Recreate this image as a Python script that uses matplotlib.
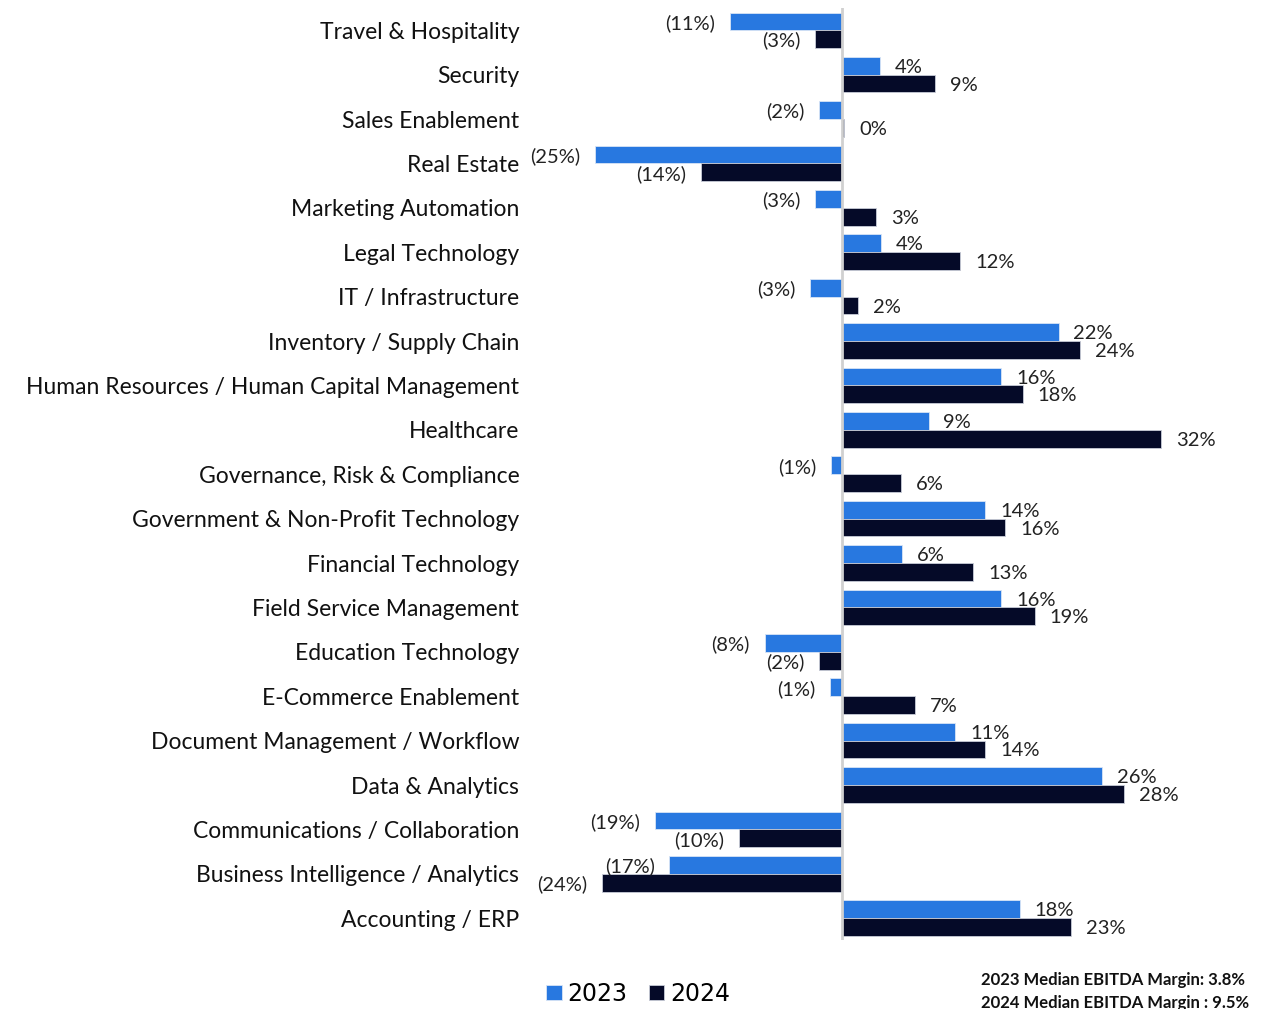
import numpy as np
import matplotlib.pyplot as plt

categories = [
    "Travel & Hospitality", "Security", "Sales Enablement", "Real Estate",
    "Marketing Automation", "Legal Technology", "IT / Infrastructure",
    "Inventory / Supply Chain", "Human Resources / Human Capital Management",
    "Healthcare", "Governance, Risk & Compliance",
    "Government & Non-Profit Technology", "Financial Technology",
    "Field Service Management", "Education Technology",
    "E-Commerce Enablement", "Document Management / Workflow",
    "Data & Analytics", "Communications / Collaboration",
    "Business Intelligence / Analytics", "Accounting / ERP",
]
margin_2023 = [-11.3, 3.8, -2.3, -24.9, -2.7, 3.9, -3.2, 21.8, 16.0, 8.7, -1.1,
               14.4, 6.0, 16.0, -7.8, -1.2, 11.4, 26.2, -18.9, -17.4, 17.9]
margin_2024 = [-2.7, 9.4, 0.2, -14.2, 3.4, 11.9, 1.6, 24.0, 18.2, 32.1, 5.9,
               16.4, 13.2, 19.4, -2.3, 7.3, 14.4, 28.4, -10.4, -24.2, 23.1]
notes = ["2023 Median EBITDA Margin: 3.8%", "2024 Median EBITDA Margin : 9.5%"]

c2023 = "#2878E0"
c2024 = "#050A28"
font = "Lato"


def fmt(v):
    r = int(round(abs(v)))
    return f"({r}%)" if v < 0 else f"{r}%"


fig = plt.figure(figsize=(12.69, 10.09), dpi=100)
ax = fig.add_axes([0.418, 0.068, 0.575, 0.924])

y = np.arange(len(categories))
h = 0.4
b1 = ax.barh(y - h / 2, margin_2023, height=h, color=c2023, edgecolor="#d8e4f5",
             linewidth=0.6, label="2023")
b2 = ax.barh(y + h / 2, margin_2024, height=h, color=c2024, edgecolor="#c8ccd8",
             linewidth=0.6, label="2024")

for vals, yy in [(margin_2023, y - h / 2), (margin_2024, y + h / 2)]:
    for v, yi in zip(vals, yy):
        if v < 0:
            ax.text(v - 1.5, yi, fmt(v), ha="right", va="center_baseline",
                    fontsize=14.5, family=font, color="#222222")
        else:
            ax.text(v + 1.5, yi, fmt(v), ha="left", va="center_baseline",
                    fontsize=14.5, family=font, color="#222222")

ax.axvline(0, color="#d0d0d0", lw=2, zorder=3)
ax.set_xlim(-31.4, 42.1)
ax.set_ylim(len(categories) - 0.5, -0.5)
ax.set_yticks(y)
ax.set_yticklabels(categories, fontsize=16.5, family=font, color="#111111")
ax.tick_params(axis="y", length=0, pad=8)
ax.set_xticks([])
for s in ax.spines.values():
    s.set_visible(False)

fig.legend(handles=[b1, b2], labels=["2023", "2024"], loc="center",
           bbox_to_anchor=(0.503, 0.015), ncol=2, frameon=False,
           prop={"family": "Liberation Sans Narrow", "size": 17},
           handlelength=0.65, handleheight=0.65, handletextpad=0.25,
           columnspacing=0.9)

fig.text(0.773, 0.029, notes[0], fontsize=12, family=font, weight="bold",
         va="center", color="#111111")
fig.text(0.773, 0.006, notes[1], fontsize=12, family=font, weight="bold",
         va="center", color="#111111")

fig.savefig("out.png", dpi=100)
